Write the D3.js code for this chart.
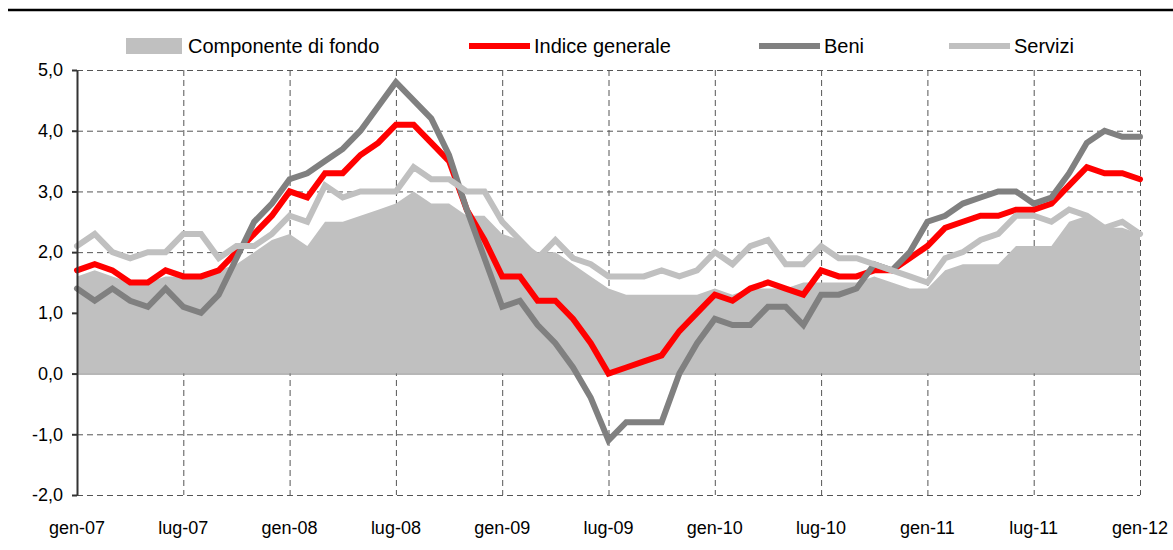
<html>
  <head>
    <meta charset="utf-8" />
    <script src="https://cdn.jsdelivr.net/npm/d3@7"></script>
    <style>
      body {
        margin: 0;
        padding: 0;
        background-color: #ffffff;
      }
      text {
        font-family: "Liberation Sans Narrow", "Arial Narrow", "Liberation Sans", Arial, sans-serif;
        fill: #000;
      }
    </style>
  </head>
  <body>
    <div id="chart"></div>
    <script>

// months gen-07 .. gen-12 (61 points), tick labels every 6 months
const tickLabels = ["gen-07", "lug-07", "gen-08", "lug-08", "gen-09", "lug-09",
                    "gen-10", "lug-10", "gen-11", "lug-11", "gen-12"];
const seriesNames = ["Componente di fondo", "Indice generale", "Beni", "Servizi"];

const fondo = [1.6, 1.7, 1.6, 1.5, 1.5, 1.6, 1.6, 1.6, 1.7, 1.8,
               2.0, 2.2, 2.3, 2.1, 2.5, 2.5, 2.6, 2.7, 2.8, 3.0,
               2.8, 2.8, 2.6, 2.6, 2.3, 2.2, 2.0, 2.0, 1.8, 1.6,
               1.4, 1.3, 1.3, 1.3, 1.3, 1.3, 1.4, 1.3, 1.4, 1.4,
               1.4, 1.5, 1.5, 1.5, 1.5, 1.6, 1.5, 1.4, 1.4, 1.7,
               1.8, 1.8, 1.8, 2.1, 2.1, 2.1, 2.5, 2.6, 2.4, 2.4, 2.3];

const indice = [1.7, 1.8, 1.7, 1.5, 1.5, 1.7, 1.6, 1.6, 1.7, 2.0,
                2.3, 2.6, 3.0, 2.9, 3.3, 3.3, 3.6, 3.8, 4.1, 4.1,
                3.8, 3.5, 2.7, 2.2, 1.6, 1.6, 1.2, 1.2, 0.9, 0.5,
                0.0, 0.1, 0.2, 0.3, 0.7, 1.0, 1.3, 1.2, 1.4, 1.5,
                1.4, 1.3, 1.7, 1.6, 1.6, 1.7, 1.7, 1.9, 2.1, 2.4,
                2.5, 2.6, 2.6, 2.7, 2.7, 2.8, 3.1, 3.4, 3.3, 3.3, 3.2];

const beni = [1.4, 1.2, 1.4, 1.2, 1.1, 1.4, 1.1, 1.0, 1.3, 1.9,
              2.5, 2.8, 3.2, 3.3, 3.5, 3.7, 4.0, 4.4, 4.8, 4.5,
              4.2, 3.6, 2.7, 1.9, 1.1, 1.2, 0.8, 0.5, 0.1, -0.4,
              -1.1, -0.8, -0.8, -0.8, 0.0, 0.5, 0.9, 0.8, 0.8, 1.1,
              1.1, 0.8, 1.3, 1.3, 1.4, 1.8, 1.7, 2.0, 2.5, 2.6,
              2.8, 2.9, 3.0, 3.0, 2.8, 2.9, 3.3, 3.8, 4.0, 3.9, 3.9];

const servizi = [2.1, 2.3, 2.0, 1.9, 2.0, 2.0, 2.3, 2.3, 1.9, 2.1,
                 2.1, 2.3, 2.6, 2.5, 3.1, 2.9, 3.0, 3.0, 3.0, 3.4,
                 3.2, 3.2, 3.0, 3.0, 2.5, 2.2, 1.9, 2.2, 1.9, 1.8,
                 1.6, 1.6, 1.6, 1.7, 1.6, 1.7, 2.0, 1.8, 2.1, 2.2,
                 1.8, 1.8, 2.1, 1.9, 1.9, 1.8, 1.7, 1.6, 1.5, 1.9,
                 2.0, 2.2, 2.3, 2.6, 2.6, 2.5, 2.7, 2.6, 2.4, 2.5, 2.3];

const yTicks = [-2, -1, 0, 1, 2, 3, 4, 5];

const width = 1173;
const height = 550;
const plot = { left: 77, right: 1140, top: 70, bottom: 495 };

const svg = d3.select("#chart")
  .append("svg")
  .attr("width", width)
  .attr("height", height);

const x = d3.scaleLinear().domain([0, fondo.length - 1]).range([plot.left, plot.right]);
const y = d3.scaleLinear().domain([-2, 5]).range([plot.bottom, plot.top]);
const fmt = d => d.toFixed(1).replace(".", ",");

// top rule
svg.append("line")
  .attr("x1", 8).attr("x2", width)
  .attr("y1", 10).attr("y2", 10)
  .attr("stroke", "#000").attr("stroke-width", 2.5);

// dashed grid
const grid = svg.append("g")
  .attr("stroke", "#555")
  .attr("stroke-width", 1)
  .attr("stroke-dasharray", "6,4");

grid.selectAll(".hgrid")
  .data(yTicks.filter(d => d !== 0))
  .enter().append("line")
  .attr("x1", plot.left).attr("x2", plot.right)
  .attr("y1", d => y(d) + 0.5).attr("y2", d => y(d) + 0.5);

grid.selectAll(".vgrid")
  .data(tickLabels.slice(1))
  .enter().append("line")
  .attr("x1", (d, i) => x((i + 1) * 6) + 0.5).attr("x2", (d, i) => x((i + 1) * 6) + 0.5)
  .attr("y1", plot.top).attr("y2", plot.bottom);

// area: componente di fondo
const area = d3.area()
  .x((d, i) => x(i))
  .y0(y(0))
  .y1(d => y(d));

svg.append("path")
  .datum(fondo)
  .attr("d", area)
  .attr("fill", "#c0c0c0");

// zero line
svg.append("line")
  .attr("x1", plot.left).attr("x2", plot.right)
  .attr("y1", y(0) + 0.5).attr("y2", y(0) + 0.5)
  .attr("stroke", "#808080").attr("stroke-width", 1);

// lines
const line = d3.line()
  .x((d, i) => x(i))
  .y(d => y(d));

const lines = [
  { data: indice, color: "#ff0000" },
  { data: beni, color: "#808080" },
  { data: servizi, color: "#c0c0c0" }
];

svg.selectAll(".series")
  .data(lines)
  .enter().append("path")
  .attr("class", "series")
  .attr("d", d => line(d.data))
  .attr("fill", "none")
  .attr("stroke", d => d.color)
  .attr("stroke-width", 6)
  .attr("stroke-linejoin", "miter")
  .attr("stroke-miterlimit", 3)
  .attr("stroke-linecap", "round");

// y axis
const yAxis = d3.axisLeft(y)
  .tickValues(yTicks)
  .tickFormat(fmt)
  .tickSize(5)
  .tickSizeOuter(0)
  .tickPadding(9);

const gy = svg.append("g")
  .attr("transform", `translate(${plot.left},0)`)
  .call(yAxis);
gy.select(".domain").attr("stroke", "#333").attr("stroke-width", 2);
gy.selectAll(".tick line").attr("stroke", "#333").attr("stroke-width", 2);
gy.selectAll(".tick text")
  .attr("font-size", 18)
  .attr("font-family", null)
  .attr("fill", "#000");

// x tick labels
svg.selectAll(".xlabel")
  .data(tickLabels)
  .enter().append("text")
  .attr("class", "xlabel")
  .attr("x", (d, i) => x(i * 6))
  .attr("y", 534)
  .attr("text-anchor", "middle")
  .attr("font-size", 18)
  .text(d => d);

// legend
const legend = svg.append("g");
const legendX = [126, 469, 759, 949];

legend.append("rect")
  .attr("x", legendX[0]).attr("y", 38)
  .attr("width", 56).attr("height", 16)
  .attr("fill", "#c0c0c0");

legend.selectAll(".legline")
  .data(lines)
  .enter().append("line")
  .attr("x1", (d, i) => legendX[i + 1]).attr("x2", (d, i) => legendX[i + 1] + 61)
  .attr("y1", 46).attr("y2", 46)
  .attr("stroke", d => d.color)
  .attr("stroke-width", 6);

legend.selectAll(".legtext")
  .data(seriesNames)
  .enter().append("text")
  .attr("x", (d, i) => legendX[i] + (i === 0 ? 62 : 65))
  .attr("y", 53)
  .attr("font-size", 20)
  .text(d => d);

</script>
  </body>
</html>
